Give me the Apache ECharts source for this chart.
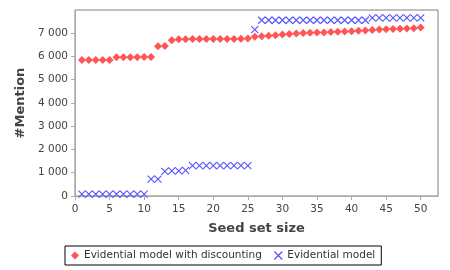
<!DOCTYPE html>
<html><head><meta charset="utf-8">
<script src="https://cdn.jsdelivr.net/npm/echarts@6/dist/echarts.min.js"></script>
<style>html,body{margin:0;padding:0;background:#fff}#c{width:450px;height:270px}</style>
</head><body><div id="c"></div>
<script>
const seedSizes = [1,2,3,4,5,6,7,8,9,10,11,12,13,14,15,16,17,18,19,20,21,22,23,24,25,26,27,28,29,30,31,32,33,34,35,36,37,38,39,40,41,42,43,44,45,46,47,48,49,50];
const discounting = [5830,5830,5830,5830,5840,5950,5950,5950,5950,5960,5960,6430,6440,6680,6720,6730,6740,6740,6740,6740,6740,6740,6740,6750,6760,6830,6850,6880,6900,6930,6950,6970,6990,7000,7010,7020,7040,7050,7060,7070,7090,7100,7120,7140,7150,7160,7180,7190,7200,7230];
const evidential = [80,80,80,80,80,80,80,80,80,80,720,720,1060,1080,1080,1100,1300,1300,1300,1300,1300,1300,1300,1300,1300,7140,7540,7540,7540,7540,7540,7540,7540,7540,7540,7540,7540,7540,7540,7540,7540,7540,7640,7640,7640,7640,7640,7640,7640,7640];
const seriesNames = ['Evidential model with discounting', 'Evidential model'];
const yTicks = [0,1000,2000,3000,4000,5000,6000,7000];
const xTicks = [0,5,10,15,20,25,30,35,40,45,50];

const font = 'DejaVu Sans';
const cross = 'path://M0,0L10,10M10,0L0,10';
const chart = echarts.init(document.getElementById('c'), null, {renderer:'canvas'});
chart.setOption({
  animation:false,
  grid:{left:75,right:12,top:10,bottom:74,show:true,borderColor:'#808080',borderWidth:1,backgroundColor:'#fff'},
  legend:{
    left:65, top:246, padding:[3,6], itemGap:10, itemWidth:8, itemHeight:8,
    borderColor:'#000', borderWidth:1, borderRadius:0,
    textStyle:{fontFamily:font,fontSize:10.5,color:'#333'},
    data:[
      {name:seriesNames[0],icon:'diamond',itemStyle:{color:'#ff5555'}},
      {name:seriesNames[1],icon:cross,itemStyle:{color:'none',borderColor:'#5555ff',borderWidth:1.2}}
    ]
  },
  xAxis:{
    type:'value', min:0, max:52.5, offset:4,
    name:'Seed set size', nameLocation:'middle', nameGap:22,
    nameTextStyle:{fontFamily:font,fontSize:13,fontWeight:'bold',color:'#444'},
    axisLine:{show:true,lineStyle:{color:'#aaa'}},
    axisTick:{show:true,length:4,lineStyle:{color:'#aaa'},customValues:xTicks},
    axisLabel:{fontFamily:font,fontSize:10.5,color:'#444',margin:4,customValues:xTicks},
    splitLine:{show:false}
  },
  yAxis:{
    type:'value', min:0, max:7980, offset:3,
    name:'#Mention', nameLocation:'middle', nameGap:44,
    nameTextStyle:{fontFamily:font,fontSize:13,fontWeight:'bold',color:'#444'},
    axisLine:{show:true,lineStyle:{color:'#aaa'}},
    axisTick:{show:true,length:4,lineStyle:{color:'#aaa'},customValues:yTicks},
    axisLabel:{fontFamily:font,fontSize:10.5,color:'#444',margin:4,customValues:yTicks,
      formatter:v=> String(v).replace(/\B(?=(\d{3})+(?!\d))/g,' ')},
    splitLine:{show:false}
  },
  series:[
    {name:seriesNames[0],type:'scatter',symbol:'diamond',symbolSize:8,
     itemStyle:{color:'#ff5555',opacity:1},
     data:seedSizes.map((x,i)=>[x,discounting[i]]), z:2},
    {name:seriesNames[1],type:'scatter',symbol:cross,symbolSize:7,
     itemStyle:{color:'none',borderColor:'#5555ff',borderWidth:1.1,opacity:1},
     data:seedSizes.map((x,i)=>[x,evidential[i]]), z:3}
  ]
});
</script></body></html>
